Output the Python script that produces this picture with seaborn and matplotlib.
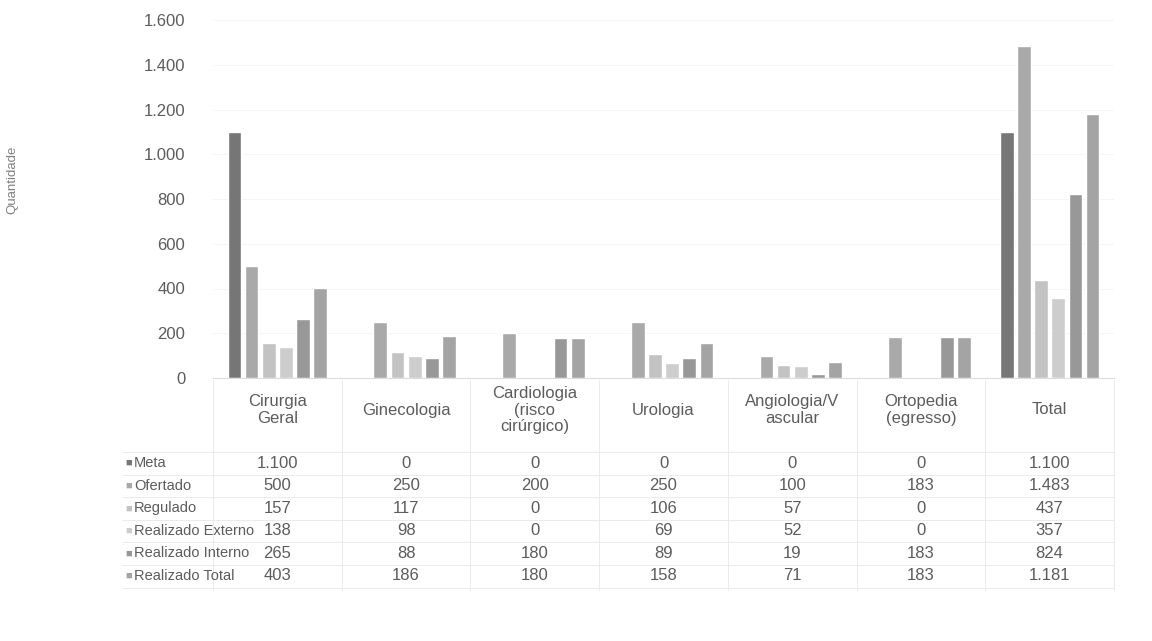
import numpy as np
import pandas as pd
import matplotlib
matplotlib.use("Agg")
import matplotlib.pyplot as plt
import matplotlib.transforms as mtransforms
import seaborn as sns

categorias = ["Cirurgia\nGeral", "Ginecologia", "Cardiologia\n(risco\ncirúrgico)", "Urologia",
              "Angiologia/V\nascular", "Ortopedia\n(egresso)", "Total"]
series = ["Meta", "Ofertado", "Regulado", "Realizado Externo", "Realizado Interno", "Realizado Total"]
meta = [1100, 0, 0, 0, 0, 0, 1100]
ofertado = [500, 250, 200, 250, 100, 183, 1483]
regulado = [157, 117, 0, 106, 57, 0, 437]
realizado_externo = [138, 98, 0, 69, 52, 0, 357]
realizado_interno = [265, 88, 180, 89, 19, 183, 824]
realizado_total = [403, 186, 180, 158, 71, 183, 1181]
yticks = [0, 200, 400, 600, 800, 1000, 1200, 1400, 1600]

cores = ["#767676", "#a9a9a9", "#c3c3c3", "#cdcdcd", "#989898", "#a4a4a4"]
cor_texto = "#5c5c5c"

valores = [meta, ofertado, regulado, realizado_externo, realizado_interno, realizado_total]
df = pd.DataFrame({
    "categoria": np.repeat([categorias], len(series), axis=0).ravel(),
    "serie": np.repeat(series, len(categorias)),
    "valor": np.concatenate(valores),
})

sns.set_style("white")
plt.rcParams['font.family'] = ['Liberation Sans', 'DejaVu Sans']

W, H = 1152, 641
fig = plt.figure(figsize=(W / 100, H / 100), dpi=100)
# eixo: x de 213 a 1114 px, y de 20 a 378 px (a partir do topo)
ax = fig.add_axes([213 / W, 1 - 378 / H, (1114 - 213) / W, (378 - 20) / H])

sns.barplot(data=df, x="categoria", y="valor", hue="serie", order=categorias,
            hue_order=series, palette=cores, width=0.8, gap=0.2, ax=ax, legend=False)

ax.set_ylim(0, 1600)
ax.set_xlim(-0.5, len(categorias) - 0.5)
ax.set_yticks(yticks)
ax.set_yticklabels([f"{v:,}".replace(",", ".") for v in yticks], color=cor_texto, fontsize=12)
ax.tick_params(axis="y", length=0, pad=20)
ax.set_xticks([])
ax.set_xlabel("")
ax.set_ylabel("")
for s in ["top", "right", "left"]:
    ax.spines[s].set_visible(False)
ax.spines["bottom"].set_color("#dcdcdc")
ax.grid(axis="y", color="#f4f4f4", linewidth=0.6)
ax.set_axisbelow(True)

fig.text(12 / W, 1 - 180 / H, "Quantidade", rotation=90, ha="center", va="center",
         color="#808080", fontsize=9.5)

# tabela de dados abaixo do gráfico
trans = mtransforms.blended_transform_factory(ax.transData, fig.transFigure)
y_cab = 1 - 410 / H
for i, cat in enumerate(categorias):
    ax.text(i, y_cab, cat, transform=trans, ha="center", va="center", fontsize=12,
            color=cor_texto, linespacing=1.15)

y_linhas = [1 - (463 + 22.6 * r) / H for r in range(len(series))]
for r, (nome, vals) in enumerate(zip(series, valores)):
    y = y_linhas[r]
    fig.text(125 / W, y, "■", ha="left", va="center", fontsize=8, color=cores[r])
    fig.text(134 / W, y, nome, ha="left", va="center", fontsize=10.5, color=cor_texto)
    for i, v in enumerate(vals):
        ax.text(i, y, f"{v:,}".replace(",", "."), transform=trans, ha="center", va="center",
                fontsize=12, color=cor_texto)

# linhas finas da tabela
cor_grade = "#e8e8e8"
topo = 1 - 380 / H
base = 1 - 590 / H
for i in range(len(categorias) + 1):
    ax.plot([i - 0.5, i - 0.5], [base, topo], transform=trans, color=cor_grade, lw=0.6, clip_on=False)
for r in range(len(series) + 1):
    yl = 1 - (452 + 22.6 * r) / H
    fig.add_artist(plt.Line2D([122 / W, 1114 / W], [yl, yl], color=cor_grade, lw=0.6))

fig.savefig("out.png", dpi=100)
